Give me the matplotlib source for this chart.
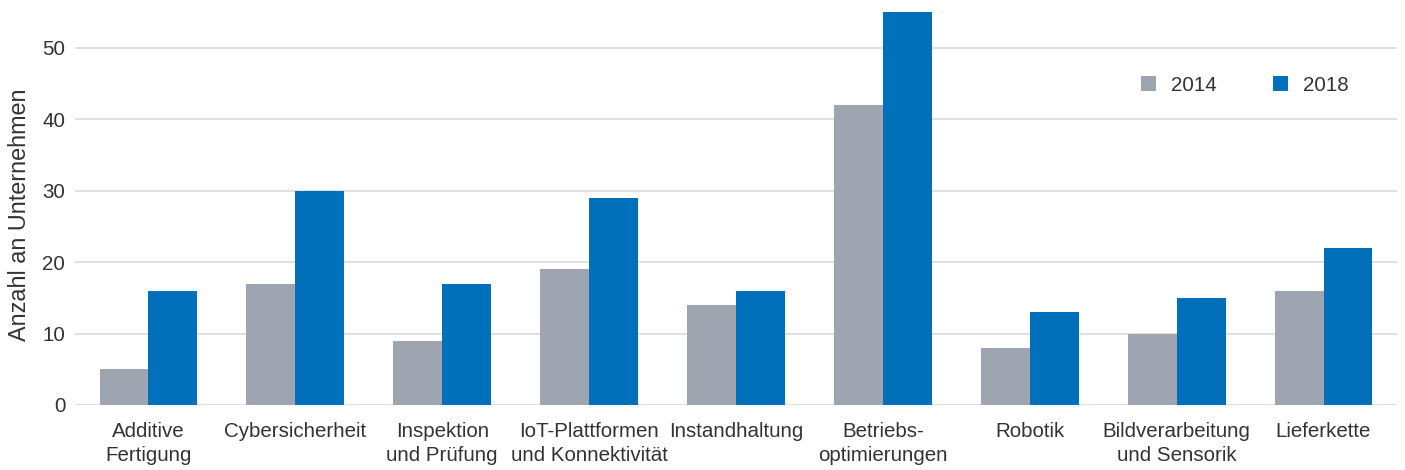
import matplotlib
matplotlib.use("Agg")
import matplotlib.pyplot as plt
import numpy as np

# Daten
kategorien = ["Additive\nFertigung", "Cybersicherheit", "Inspektion\nund Prüfung",
              "IoT-Plattformen\nund Konnektivität", "Instandhaltung", "Betriebs-\noptimierungen",
              "Robotik", "Bildverarbeitung\nund Sensorik", "Lieferkette"]
werte_2014 = [5, 17, 9, 19, 14, 42, 8, 10, 16]
werte_2018 = [16, 30, 17, 29, 16, 55, 13, 15, 22]
jahre = ["2014", "2018"]

plt.rcParams['font.family'] = ['Liberation Sans', 'DejaVu Sans']

fig = plt.figure(figsize=(14.05, 4.70), dpi=100)
ax = fig.add_axes([0.0534, 0.1383, 0.9409, 0.8617])

x = np.arange(len(kategorien))
breite = 0.333
ax.bar(x - breite / 2, werte_2014, width=breite, color="#9EA5B0", label=jahre[0], zorder=3)
ax.bar(x + breite / 2, werte_2018, width=breite, color="#0070BA", label=jahre[1], zorder=3)

ax.set_xlim(-0.5, len(kategorien) - 0.5)
ax.set_ylim(0, 56.7)
ax.set_yticks(range(0, 51, 10))
ax.set_xticks(x)
ax.set_xticklabels(kategorien, fontsize=14.8, color="#333333", linespacing=1.38)
ax.tick_params(axis="y", labelsize=14.8, labelcolor="#333333", length=0, pad=7)
ax.tick_params(axis="x", length=0, pad=12)
ax.grid(axis="y", color="#DDDDDD", linewidth=1.3, zorder=0)
for s in ax.spines.values():
    s.set_visible(False)

ax.set_ylabel("Anzahl an Unternehmen", fontsize=16.8, color="#333333")
ax.yaxis.set_label_coords(-0.0335, 0.47)

ax.legend(loc="center left", bbox_to_anchor=(0.792, 0.79), ncol=2, frameon=False,
          fontsize=14.8, handlelength=0.75, handleheight=0.75, columnspacing=2.7,
          handletextpad=0.75, labelcolor="#333333")

fig.savefig("out.png", dpi=100)
